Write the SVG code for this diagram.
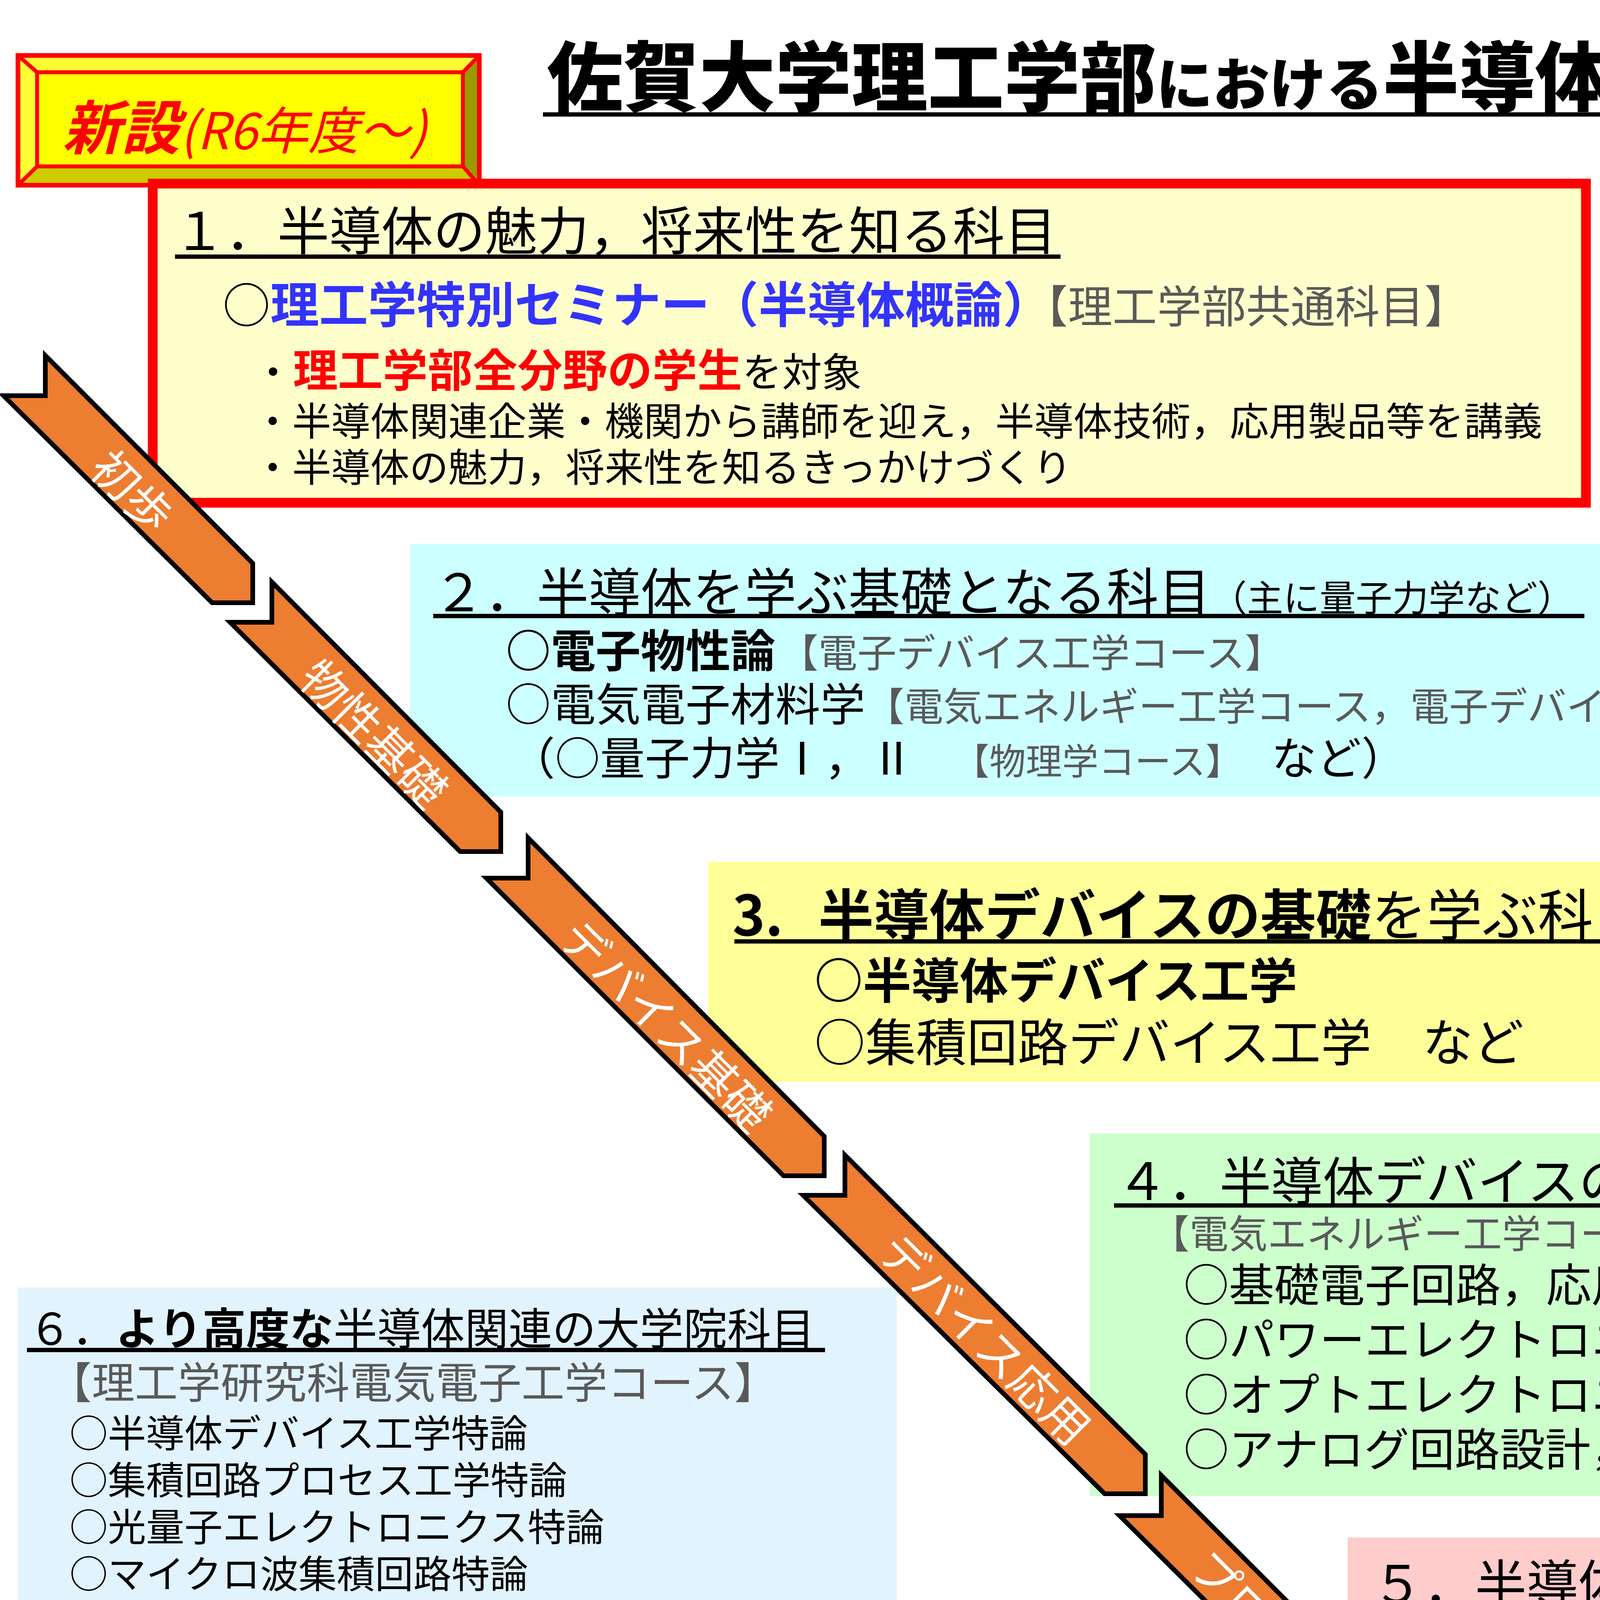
<svg xmlns="http://www.w3.org/2000/svg" width="6463" height="4501" viewBox="0 0 6463 4501">
<style>
text{font-family:"Noto Sans CJK JP","Noto Sans CJK SC",sans-serif;fill:#000}
.b{font-weight:700}
.bk{font-weight:900}
.g{fill:#595959}
.r{fill:#FF0000}
.bl{fill:#3333FF}
.ul{stroke:#000;stroke-width:11;fill:none}
.seg{fill:#ED7D31;stroke:#000;stroke-width:12;stroke-linejoin:miter}
.lab{font-size:118px;fill:#FFFFFF;text-anchor:middle;dominant-baseline:central}
.chev{fill:#4472C4;stroke:#2F528F;stroke-width:8}
</style>
<rect width="6463" height="4501" fill="#FFFFFF"/>
<g id="title">
<text x="1400" y="270" class="bk" font-size="195">佐賀大学理工学部<tspan font-size="145">における</tspan>半導体履修モデル</text>
<line class="ul" x1="1390" y1="293" x2="5130" y2="293" stroke-width="12"/>
</g>

<g id="badge">
<rect x="46" y="142" width="1181" height="332" fill="#FFFF00"/>
<polygon points="46,142 1227,142 1185,185 95,185" fill="#FFFF33"/>
<polygon points="46,142 95,185 95,426 46,474" fill="#FFFF33"/>
<polygon points="1227,142 1185,185 1185,426 1227,474" fill="#999900"/>
<polygon points="46,474 95,426 1185,426 1227,474" fill="#CCCC00"/>
<rect x="95" y="185" width="1090" height="241" fill="none" stroke="#FF0000" stroke-width="10"/>
<rect x="46" y="142" width="1181" height="332" fill="none" stroke="#FF0000" stroke-width="12"/>
<path d="M46,142 L95,185 M1227,142 L1185,185 M1227,474 L1185,426 M46,474 L95,426" stroke="#FF0000" stroke-width="10"/>
<text x="160" y="382" class="r b" font-size="150" font-style="italic">新設<tspan font-size="130" font-weight="400">(R6年度～)</tspan></text>
</g>

<g id="box1">
<rect x="391" y="470" width="3669" height="817" fill="#FFFFCC" stroke="#FF0000" stroke-width="25"/>
<text x="444" y="640" font-size="133">１．半導体の魅力，将来性を知る科目</text>
<line class="ul" x1="448" y1="657" x2="2715" y2="657"/>
<text x="570" y="826" font-size="122">○<tspan class="bl b" font-size="125">理工学特別セミナー（半導体概論）</tspan><tspan class="g" font-size="114" x="2620">【理工学部共通科目】</tspan></text>
<text x="648" y="990" font-size="102">・<tspan class="r b" font-size="115">理工学部全分野の学生</tspan>を対象</text>
<text x="648" y="1115" font-size="100">・半導体関連企業・機関から講師を迎え，半導体技術，応用製品等を講義</text>
<text x="648" y="1233" font-size="100">・半導体の魅力，将来性を知るきっかけづくり</text>
</g>

<g id="partners">
<text x="4592" y="510" class="b" font-size="95">協力<tspan dx="-28">・</tspan><tspan dx="-28">連携</tspan></text>
<rect x="4541" y="550" width="1906" height="524" rx="95" ry="95" fill="#FFFFFF" stroke="#FF0000" stroke-width="25"/>
<text x="4630" y="722" font-size="100">九州半導体人材育成等コンソーシアム</text>
<text x="4630" y="858" font-size="100">さが半導体フォーラム</text>
<text x="4630" y="993" font-size="100">九州・佐賀県内の半導体関連企業等</text>
</g>

<g id="connectors">
<polygon class="chev" points="4243,710 4322,710 4250,814 4322,917 4243,917 4175,814"/>
<polygon class="chev" points="4366,710 4440,710 4372,814 4440,917 4366,917 4296,814"/>
<text x="4110" y="1058" font-size="98">講師派遣</text>
</g>

<g id="note">
<rect x="4921" y="1614" width="1526" height="484" fill="#FFFFFF" stroke="#000" stroke-width="8"/>
<text x="4940" y="1732" font-size="90">※</text>
<text x="4975" y="1835" font-size="90">【】内は科目を開講しているコース</text>
<text x="4985" y="1950" font-size="90">他コース学生も履修可能</text>
<text x="4990" y="2055" font-size="88">(単位の一部を卒業要件に算入可)</text>
</g>

<g id="box2">
<rect x="1050" y="1393" width="3830" height="646" fill="#CCFFFF"/>
<text x="1108" y="1565" font-size="133">２．半導体を学ぶ基礎となる科目<tspan font-size="93">（主に量子力学など）</tspan></text>
<line class="ul" x1="1109" y1="1577" x2="4056" y2="1577"/>
<text x="1295" y="1708" font-size="115"><tspan class="b">○電子物性論</tspan><tspan class="g" font-size="100" x="1995">【電子デバイス工学コース】</tspan></text>
<text x="1295" y="1845" font-size="115">○電気電子材料学<tspan class="g" font-size="100">【電気エネルギー工学コース，電子デバイス工学コース】</tspan></text>
<text x="1306" y="1983" font-size="115">（○量子力学Ⅰ，Ⅱ<tspan class="g" font-size="93" x="2440">【物理学コース】</tspan><tspan x="3255">など）</tspan></text>
</g>

<g id="box3">
<rect x="1813" y="2206" width="4124" height="564" fill="#FFFF99"/>
<text x="1875" y="2395" font-size="142"><tspan class="b">3.</tspan><tspan class="b" x="2095">半導体デバイスの基礎</tspan>を学ぶ科目<tspan class="g" font-size="115" x="4255">【電子デバイス工学コース】</tspan></text>
<line class="ul" x1="1880" y1="2410" x2="4251" y2="2410"/>
<text x="2085" y="2556" class="b" font-size="124">○半導体デバイス工学</text>
<text x="2085" y="2716" font-size="130">○集積回路デバイス工学　など</text>
</g>

<g id="box4">
<rect x="2790" y="2902" width="3128" height="928" fill="#CCFFCC"/>
<text x="2858" y="3072" font-size="132">４．半導体デバイスの応用を学ぶ科目</text>
<line class="ul" x1="2852" y1="3086" x2="5113" y2="3086"/>
<text x="2945" y="3195" class="g" font-size="100">【電気エネルギー工学コース，電子デバイス工学コース】</text>
<text x="3030" y="3332" font-size="116">○基礎電子回路，応用電子回路</text>
<text x="3030" y="3472" font-size="116">○パワーエレクトロニクス</text>
<text x="3030" y="3613" font-size="116">○オプトエレクトロニクス</text>
<text x="3030" y="3753" font-size="116">○アナログ回路設計，LSI回路設計</text>
<text x="4955" y="3753" font-size="116">など</text>
</g>

<g id="box5">
<rect x="3450" y="3936" width="2920" height="484" fill="#FFCCCC"/>
<text x="3512" y="4103" font-size="132">５．半導体プロセスを学ぶ科目</text>
<line class="ul" x1="3508" y1="4120" x2="5375" y2="4120"/>
<text x="3621" y="4230" class="g" font-size="99">【電気エネルギー工学コース，電子デバイス工学コース】</text>
<text x="3760" y="4366" font-size="116">○プラズマエレクトロニクス</text>
<text x="5385" y="4366" font-size="116">など</text>
</g>

<g id="box6">
<rect x="46" y="3296" width="2250" height="1190" fill="#E1F3FD"/>
<text x="72" y="3443" font-size="112">６．<tspan class="b">より高度な</tspan>半導体関連の大学院科目</text>
<line class="ul" x1="69" y1="3456" x2="2112" y2="3456" stroke-width="9"/>
<text x="125" y="3580" class="g" font-size="110">【理工学研究科電気電子工学コース】</text>
<text x="178" y="3705" font-size="98">○半導体デバイス工学特論</text>
<text x="178" y="3825" font-size="98">○集積回路プロセス工学特論</text>
<text x="178" y="3945" font-size="98">○光量子エレクトロニクス特論</text>
<text x="178" y="4065" font-size="98">○マイクロ波集積回路特論</text>
<text x="178" y="4185" font-size="98">○シンクロトロン光利用科学技術工学特論</text>
<text x="178" y="4304" font-size="98">○プロセスプラズマ工学特論</text>
<text x="178" y="4424" font-size="98">○データ解析工学特論，など</text>
</g>

<g id="stages">
<g id="stage1">
<polygon class="seg" points="116,910 647,1442 647,1543 543,1543 9,1013 116,1013"/>
<text class="lab" transform="translate(344,1253) rotate(45)">初歩</text>
</g>
<g id="stage2">
<polygon class="seg" points="696,1490 1282,2079 1282,2180 1178,2180 589,1593 696,1593"/>
<text class="lab" transform="translate(962,1873) rotate(45)">物性基礎</text>
</g>
<g id="stage3">
<polygon class="seg" points="1352,2145 2110,2909 2110,3010 2006,3010 1245,2248 1352,2248"/>
<text class="lab" transform="translate(1710,2620) rotate(45)">デバイス基礎</text>
</g>
<g id="stage4">
<polygon class="seg" points="2163,2957 2932,3723 2932,3824 2828,3824 2056,3060 2163,3060"/>
<text class="lab" transform="translate(2527,3423) rotate(45)">デバイス応用</text>
</g>
<g id="stage5">
<polygon class="seg" points="2973,3777 3544,4349 3544,4450 3440,4450 2866,3880 2973,3880"/>
<text class="lab" transform="translate(3243,4151) rotate(45)">プロセス</text>
</g>
</g>
</svg>
